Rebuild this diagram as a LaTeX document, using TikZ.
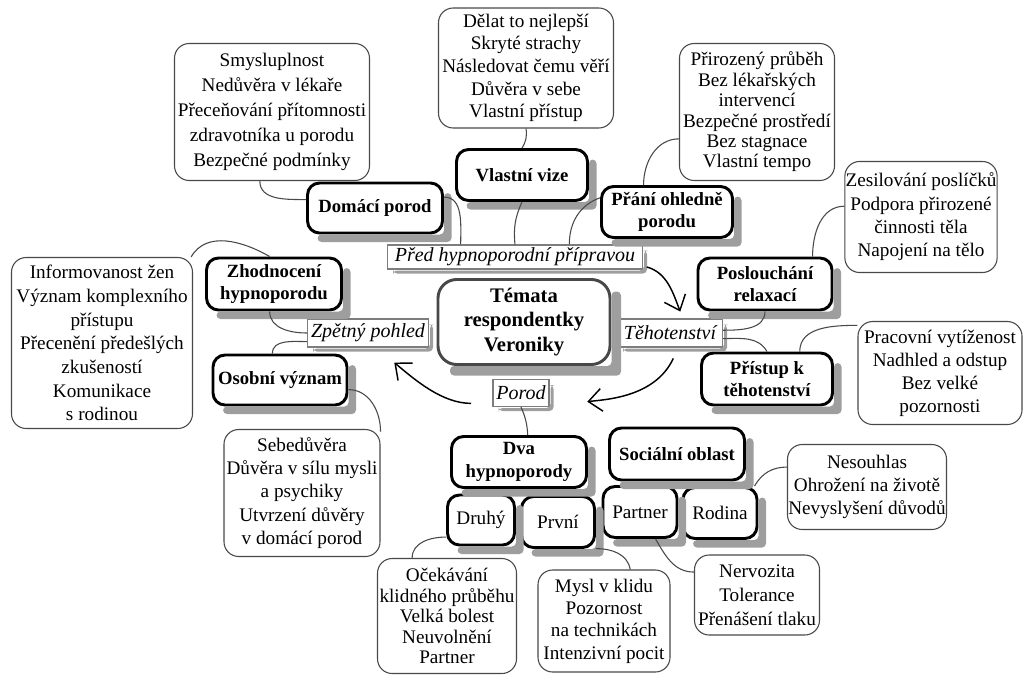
\documentclass[tikz,border=0pt]{standalone}
\usepackage{fontspec}
\setmainfont{Liberation Serif}
\usetikzlibrary{arrows.meta}
\definecolor{boxgray}{RGB}{72,72,72}
\definecolor{lblgray}{RGB}{125,125,125}
\definecolor{shadegray}{RGB}{158,158,158}

\begin{document}
\begin{tikzpicture}[x=0.75pt,y=0.75pt,yscale=-1,xscale=1,
  topic/.style={draw=black, line width=2.2pt, rounded corners=9pt, fill=white, align=center,
    inner sep=1pt, font=\fontsize{14}{17}\selectfont\bfseries},
  subtopic/.style={topic, font=\fontsize{14.4}{17}\selectfont},
  detail/.style={draw=boxgray, line width=0.8pt, rounded corners=11pt, fill=white, align=center,
    inner sep=0.5pt, font=\fontsize{14.4}{17.5}\selectfont},
  phase/.style={draw=lblgray, line width=0.8pt, fill=white, inner sep=1pt,
    font=\fontsize{15}{17}\selectfont\itshape},
  link/.style={draw=boxgray, line width=0.8pt},
  flow/.style={line width=1.1pt, -{Straight Barb[length=10pt,width=17pt]}}
]
\useasboundingbox (0,0) rectangle (1025,675);

%Center
\node[topic, draw=boxgray, rounded corners=14pt, minimum width=129pt, minimum height=63.75pt,
  font=\fontsize{15.5}{18.4}\selectfont\bfseries] (temata) at (524,322) {Témata\\respondentky\\Veroniky};

%Phases
\node[phase, minimum width=191pt, minimum height=18pt] (pred) at (515,257) {Před hypnoporodní přípravou};
\node[phase, minimum width=90.75pt, minimum height=21pt] (zpet) at (368,333) {Zpětný pohled};
\node[phase, minimum width=78.75pt, minimum height=21pt] (tehot) at (670,333) {Těhotenství};
\node[phase, minimum width=42pt, minimum height=20.25pt] (porod) at (521,393) {Porod};

%Topics
\node[topic, minimum width=101.25pt, minimum height=37.5pt] (domaci) at (375,208) {Domácí porod};
\node[topic, minimum width=98.25pt, minimum height=38.25pt] (vize) at (522,175) {Vlastní vize};
\node[topic, minimum width=98.25pt, minimum height=38.25pt] (prani) at (667,212) {Přání ohledně\\porodu};
\node[topic, minimum width=100.5pt, minimum height=39pt] (poslouch) at (765,284) {Poslouchání\\relaxací};
\node[topic, minimum width=101.25pt, minimum height=39pt] (zhodn) at (274,284) {Zhodnocení\\hypnoporodu};
\node[topic, minimum width=100.5pt, minimum height=37.5pt] (osobni) at (280,380) {Osobní význam};
\node[topic, minimum width=98.25pt, minimum height=39pt] (pristup) at (767,379) {Přístup k\\těhotenství};
\node[topic, minimum width=101.25pt, minimum height=38.25pt] (dva) at (519,462) {Dva\\hypnoporody};
\node[topic, minimum width=101.25pt, minimum height=39pt] (social) at (677,454) {Sociální oblast};
\node[subtopic, minimum width=50.25pt, minimum height=37.5pt] (druhy) at (481,520) {Druhý};
\node[subtopic, minimum width=54.75pt, minimum height=38.25pt] (prvni) at (558,522) {První};
\node[subtopic, minimum width=55.5pt, minimum height=38.25pt] (partner) at (640,512) {Partner};
\node[subtopic, minimum width=55.5pt, minimum height=38.25pt] (rodina) at (720,513) {Rodina};

%Shadows: L-shaped strips right and below each box (centre x / centre y / width / height / offset)
\foreach \cx/\cy/\bw/\bh/\d in {375/208/135/50/9, 522/175/131/51/9, 667/212/131/51/9, 765/284/134/52/9,
    274/284/135/52/9, 280/380/134/50/9, 767/379/131/52/9, 519/462/135/51/9, 677/454/135/52/9,
    481/520/67/50/9, 558/522/73/51/9, 640/512/74/51/9, 720/513/74/51/9, 524/322/172/85/11,
    515/257/255/24/4.5, 368/333/121/28/4.5, 670/333/105/28/4.5, 521/393/56/27/4.5}
  \fill[shadegray, rounded corners=3pt]
    (\cx+\bw/2+1.5,\cy-\bh/2+\d+1) -- (\cx+\bw/2+\d,\cy-\bh/2+\d+1) -- (\cx+\bw/2+\d,\cy+\bh/2+\d)
    -- (\cx-\bw/2+\d+1,\cy+\bh/2+\d) -- (\cx-\bw/2+\d+1,\cy+\bh/2+1.5) -- (\cx+\bw/2+1.5,\cy+\bh/2+1.5) -- cycle;

%Details
\node[detail, minimum width=146.25pt, minimum height=102.75pt, font=\fontsize{14.4}{18.75}\selectfont] (domaciD) at (272,112)
  {Smysluplnost\\Nedůvěra v lékaře\\Přeceňování přítomnosti\\zdravotníka u porodu\\Bezpečné podmínky};
\node[detail, minimum width=131.25pt, minimum height=90pt, font=\fontsize{14.4}{17}\selectfont] (vizeD) at (526,68)
  {Dělat to nejlepší\\Skryté strachy\\Následovat čemu věří\\Důvěra v sebe\\Vlastní přístup};
\node[detail, minimum width=116.25pt, minimum height=102.75pt, font=\fontsize{14.4}{15.3}\selectfont] (praniD) at (757,112)
  {Přirozený průběh\\Bez lékařských\\intervencí\\Bezpečné prostředí\\Bez stagnace\\Vlastní tempo};
\node[detail, minimum width=114pt, minimum height=83.25pt] (poslouchD) at (921,217)
  {Zesilování poslíčků\\Podpora přirozené\\činnosti těla\\Napojení na tělo};
\node[detail, minimum width=135.75pt, minimum height=128.25pt, font=\fontsize{14.4}{17.75}\selectfont] (zhodnD) at (102,343)
  {Informovanost žen\\Význam komplexního\\přístupu\\Přecenění předešlých\\zkušeností\\Komunikace\\s rodinou};
\node[detail, minimum width=123pt, minimum height=77.25pt, font=\fontsize{14.4}{17.25}\selectfont] (pristupD) at (940,373)
  {Pracovní vytíženost\\Nadhled a odstup\\Bez velké\\pozornosti};
\node[detail, minimum width=117pt, minimum height=95.25pt] (osobniD) at (302,493)
  {Sebedůvěra\\Důvěra v sílu mysli\\a psychiky\\Utvrzení důvěry\\v domácí porod};
\node[detail, minimum width=104.25pt, minimum height=86.25pt, font=\fontsize{14.4}{15.4}\selectfont] (druhyD) at (447,616)
  {Očekávání\\klidného průběhu\\Velká bolest\\Neuvolnění\\Partner};
\node[detail, minimum width=99pt, minimum height=76.5pt, font=\fontsize{14.4}{16.75}\selectfont] (prvniD) at (604,621)
  {Mysl v klidu\\Pozornost\\na technikách\\Intenzivní pocit};
\node[detail, minimum width=119.25pt, minimum height=63.75pt] (rodinaD) at (867,487)
  {Nesouhlas\\Ohrožení na životě\\Nevyslyšení důvodů};
\node[detail, minimum width=93.75pt, minimum height=60pt, font=\fontsize{14.4}{18}\selectfont] (partnerD) at (757,595)
  {Nervozita\\Tolerance\\Přenášení tlaku};

%Links
\draw[link] (domaciD.260) to[out=90,in=180] (domaci.173);
\draw[link] (domaci.9) to[out=0,in=-90] (pred.167);
\draw[link] (vizeD.south) to[bend right=20] (vize.north);
\draw[link] (vize.south) to[bend left=15] (pred.north);
\draw[link] (pred.13) to[out=-90,in=160] (prani.168);
\draw[link] (prani.131) to[out=-90,in=180] (praniD.199);
\draw[link] (poslouch.30) to[out=-90,in=180] (poslouchD.172);
\draw[link] (tehot.3) to[out=0,in=90] (poslouch.south);
\draw[link] (tehot.-6) to[out=0,in=-120] (pristup.north);
\draw[link] (pristup.40) to[out=-90,in=180] (pristupD.150);
\draw[link] (zhodnD.44) to[out=-60,in=-150] (zhodn.99);
\draw[link] (zhodn.261) to[out=90,in=180] (zpet.west);
\draw[link] (zpet.188) to[out=180,in=-90] (osobni.106);
\draw[link] (osobni.-8) to[out=0,in=-90] (osobniD.38);
\draw[link] (porod.south) to[bend right=10] (dva.72);
\draw[link] (druhy.206) to[out=180,in=-90] (druhyD.121);
\draw[link] (prvni.-35) to[out=0,in=-100] (prvniD.63);
\draw[link] (partner.-60) to[out=60,in=180] (partnerD.160);
\draw[link] (rodina.38) to[out=-60,in=180] (rodinaD.166);

%Arrows
\draw[flow, shorten <=3pt, shorten >=5.6pt] (pred.-4) to[out=15,in=-112] (tehot.48);
\draw[flow, shorten <=9pt, shorten >=28.5pt] (tehot.-60) to[out=115,in=-7] (porod.-25);
\draw[flow, shorten <=16pt, shorten >=17.5pt] (porod.200) to[out=180,in=40] (zpet.-60);

\end{tikzpicture}
\end{document}
